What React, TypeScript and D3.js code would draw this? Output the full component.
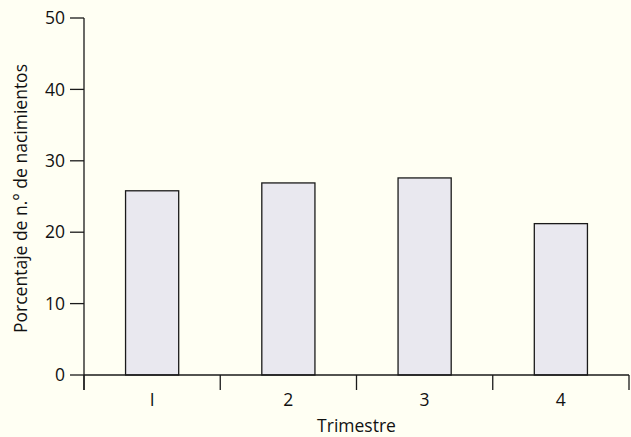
import * as d3 from "d3";
import React from "react";

const trimestres = ["1", "2", "3", "4"];
const porcentajes = [25.8, 26.9, 27.6, 21.2];
const yTicks = [0, 10, 20, 30, 40, 50];

const W = 631;
const H = 437;
const margin = { top: 18, right: 2, bottom: 62, left: 84 };
const font = "'Open Sans', Lato, sans-serif";

export default function App() {
	const innerW = W - margin.left - margin.right;
	const innerH = H - margin.top - margin.bottom;

	const x = d3.scaleBand().domain(trimestres).range([0, innerW]).paddingInner(0).paddingOuter(0);
	const y = d3.scaleLinear().domain([0, 50]).range([innerH, 0]);
	const barW = x.bandwidth() * 0.39;

	return (
		<svg
			width={W}
			height={H}
			style={{ position: "absolute", left: 0, top: 0, background: "#FFFFF3" }}
		>
			<rect width={W} height={H} fill="#FFFFF3" />
			<g transform={`translate(${margin.left},${margin.top})`}>
				{trimestres.map((t, i) => (
					<rect
						key={t}
						x={x(t)! + x.bandwidth() / 2 - barW / 2}
						y={y(porcentajes[i])}
						width={barW}
						height={innerH - y(porcentajes[i])}
						fill="#E9E8EF"
						stroke="#1a1a1a"
						strokeWidth={1.3}
					/>
				))}
				{/* y axis */}
				<line x1={0} x2={0} y1={0} y2={innerH + 15} stroke="#1a1a1a" strokeWidth={1.3} />
				{yTicks.map((v) => (
					<g key={v} transform={`translate(0,${y(v)})`}>
						<line x1={-14} x2={0} stroke="#1a1a1a" strokeWidth={1.3} />
						<text
							x={-19}
							dy="0.35em"
							textAnchor="end"
							fontFamily={font}
							fontSize={17.5}
							fill="#111"
						>
							{v}
						</text>
					</g>
				))}
				{/* x axis */}
				<line x1={0} x2={innerW} y1={innerH} y2={innerH} stroke="#1a1a1a" strokeWidth={1.3} />
				{[...trimestres.map((t) => x(t)!), innerW].map((px, i) => (
					<line key={i} x1={px} x2={px} y1={innerH} y2={innerH + 15} stroke="#1a1a1a" strokeWidth={1.3} />
				))}
				{trimestres.map((t) => (
					<text
						key={t}
						x={x(t)! + x.bandwidth() / 2}
						y={innerH + 31}
						textAnchor="middle"
						fontFamily={font}
						fontSize={17.5}
						fill="#111"
					>
						{t === "1" ? "I" : t}
					</text>
				))}
				<text
					x={innerW / 2}
					y={innerH + 57}
					textAnchor="middle"
					fontFamily={font}
					fontSize={17.5}
					fill="#111"
				>
					Trimestre
				</text>
			</g>
			<text
				transform={`translate(27,${margin.top + innerH / 2 + 2}) rotate(-90)`}
				textAnchor="middle"
				fontFamily={font}
				fontSize={17.5}
				fill="#111"
			>
				Porcentaje de n.° de nacimientos
			</text>
		</svg>
	);
}
